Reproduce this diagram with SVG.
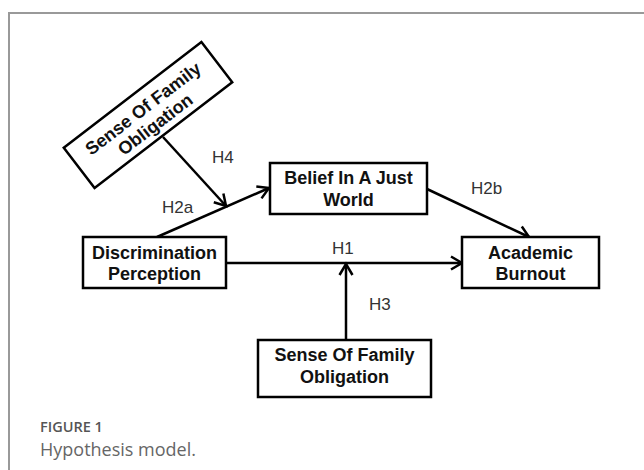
<svg xmlns="http://www.w3.org/2000/svg" width="644" height="470" viewBox="0 0 644 470">
<defs>
<style>
.box{fill:#fff;stroke:#000;stroke-width:2.5}
.t{font-family:"Liberation Sans",Arial,sans-serif;font-size:18px;font-weight:bold;fill:#111;text-anchor:middle}
.lbl{font-family:"Liberation Sans",Arial,sans-serif;font-size:17px;fill:#333}
.con{fill:none;stroke:#000;stroke-width:2.5;marker-end:url(#arr)}
.cap1{font-family:"Open Sans","Noto Sans",sans-serif;font-size:14.5px;font-weight:600;fill:#555}
.cap2{font-family:"Open Sans","Noto Sans",sans-serif;font-size:18px;fill:#666}
</style>
<marker id="arr" viewBox="0 0 14 16" markerWidth="14" markerHeight="16" refX="12" refY="8" orient="auto" markerUnits="userSpaceOnUse" overflow="visible">
<path d="M1,1.5 L12,8 L1,14.5" fill="none" stroke="#000" stroke-width="2.5"/>
</marker>
</defs>
<rect width="644" height="470" fill="#fff"/>
<path d="M9,470 V13 H644" fill="none" stroke="#999" stroke-width="2"/>
<g id="connectors">
<line class="con" x1="163" y1="137" x2="226" y2="206"/>
<line class="con" x1="157" y1="237" x2="269" y2="188"/>
<line class="con" x1="427" y1="189" x2="529" y2="237"/>
<line class="con" x1="226" y1="263" x2="462" y2="263"/>
<line class="con" x1="346" y1="340" x2="346" y2="264"/>
<text class="lbl" x="212" y="163">H4</text>
<text class="lbl" x="162" y="213">H2a</text>
<text class="lbl" x="471" y="194">H2b</text>
<text class="lbl" x="332" y="254">H1</text>
<text class="lbl" x="369" y="310">H3</text>
</g>
<g id="n_sfo_top" transform="translate(148,115) rotate(-37.5)">
<rect class="box" x="-86.75" y="-25.3" width="173.5" height="50.6"/>
<text class="t" x="0" y="-2">Sense Of Family</text>
<text class="t" x="0" y="18">Obligation</text>
</g>
<g id="n_belief">
<rect class="box" x="270" y="163" width="157" height="51"/>
<text class="t" x="348.5" y="184">Belief In A Just</text>
<text class="t" x="348.5" y="206">World</text>
</g>
<g id="n_disc">
<rect class="box" x="83" y="237" width="143" height="51"/>
<text class="t" x="154.5" y="259">Discrimination</text>
<text class="t" x="154.5" y="280">Perception</text>
</g>
<g id="n_burnout">
<rect class="box" x="462" y="237" width="137" height="51"/>
<text class="t" x="530.5" y="259">Academic</text>
<text class="t" x="530.5" y="280">Burnout</text>
</g>
<g id="n_sfo_bottom">
<rect class="box" x="258" y="340" width="173" height="57"/>
<text class="t" x="344.5" y="361">Sense Of Family</text>
<text class="t" x="344.5" y="383">Obligation</text>
</g>
<text class="cap1" x="40" y="432">FIGURE 1</text>
<text class="cap2" x="40" y="456">Hypothesis model.</text>
</svg>
